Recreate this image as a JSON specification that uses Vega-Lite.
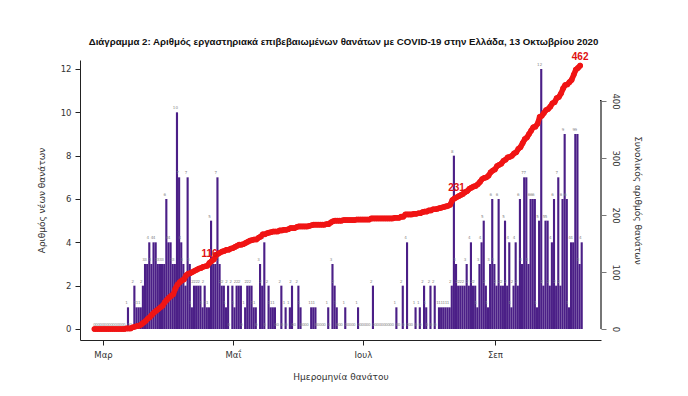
{
  "$schema": "https://vega.github.io/schema/vega-lite/v6.json",
  "width": 521,
  "height": 280,
  "autosize": "none",
  "padding": {"left": 80, "top": 60, "right": 87, "bottom": 56},
  "background": "white",
  "config": {"view": {"stroke": null}, "font": "DejaVu Sans"},
  "title": {
    "text": "Διάγραμμα 2: Αριθμός εργαστηριακά επιβεβαιωμένων θανάτων με COVID-19 στην Ελλάδα, 13 Οκτωβρίου 2020",
    "font": "Liberation Sans",
    "fontSize": 9.7,
    "fontWeight": "bold",
    "color": "#111",
    "anchor": "middle",
    "offset": 5,
    "dx": 3
  },
  "data": {
    "values": [
      {"date": "2020-02-26", "deaths": 0}, {"date": "2020-02-27", "deaths": 0}, {"date": "2020-02-28", "deaths": 0}, {"date": "2020-02-29", "deaths": 0},
      {"date": "2020-03-01", "deaths": 0}, {"date": "2020-03-02", "deaths": 0}, {"date": "2020-03-03", "deaths": 0}, {"date": "2020-03-04", "deaths": 0},
      {"date": "2020-03-05", "deaths": 0}, {"date": "2020-03-06", "deaths": 0}, {"date": "2020-03-07", "deaths": 0}, {"date": "2020-03-08", "deaths": 0},
      {"date": "2020-03-09", "deaths": 0}, {"date": "2020-03-10", "deaths": 0}, {"date": "2020-03-11", "deaths": 0}, {"date": "2020-03-12", "deaths": 1},
      {"date": "2020-03-13", "deaths": 0}, {"date": "2020-03-14", "deaths": 0}, {"date": "2020-03-15", "deaths": 2}, {"date": "2020-03-16", "deaths": 1},
      {"date": "2020-03-17", "deaths": 1}, {"date": "2020-03-18", "deaths": 1}, {"date": "2020-03-19", "deaths": 2}, {"date": "2020-03-20", "deaths": 3},
      {"date": "2020-03-21", "deaths": 3}, {"date": "2020-03-22", "deaths": 4}, {"date": "2020-03-23", "deaths": 3}, {"date": "2020-03-24", "deaths": 4},
      {"date": "2020-03-25", "deaths": 4}, {"date": "2020-03-26", "deaths": 3}, {"date": "2020-03-27", "deaths": 3}, {"date": "2020-03-28", "deaths": 3},
      {"date": "2020-03-29", "deaths": 3}, {"date": "2020-03-30", "deaths": 6}, {"date": "2020-03-31", "deaths": 4}, {"date": "2020-04-01", "deaths": 4},
      {"date": "2020-04-02", "deaths": 3}, {"date": "2020-04-03", "deaths": 3}, {"date": "2020-04-04", "deaths": 10}, {"date": "2020-04-05", "deaths": 7},
      {"date": "2020-04-06", "deaths": 4}, {"date": "2020-04-07", "deaths": 3}, {"date": "2020-04-08", "deaths": 2}, {"date": "2020-04-09", "deaths": 7},
      {"date": "2020-04-10", "deaths": 3}, {"date": "2020-04-11", "deaths": 1}, {"date": "2020-04-12", "deaths": 2}, {"date": "2020-04-13", "deaths": 2},
      {"date": "2020-04-14", "deaths": 2}, {"date": "2020-04-15", "deaths": 2}, {"date": "2020-04-16", "deaths": 1}, {"date": "2020-04-17", "deaths": 2},
      {"date": "2020-04-18", "deaths": 1}, {"date": "2020-04-19", "deaths": 1}, {"date": "2020-04-20", "deaths": 5, "lab": "116"}, {"date": "2020-04-21", "deaths": 3},
      {"date": "2020-04-22", "deaths": 3}, {"date": "2020-04-23", "deaths": 7}, {"date": "2020-04-24", "deaths": 3}, {"date": "2020-04-25", "deaths": 2},
      {"date": "2020-04-26", "deaths": 2}, {"date": "2020-04-27", "deaths": 1}, {"date": "2020-04-28", "deaths": 2}, {"date": "2020-04-29", "deaths": 0},
      {"date": "2020-04-30", "deaths": 2}, {"date": "2020-05-01", "deaths": 1}, {"date": "2020-05-02", "deaths": 2}, {"date": "2020-05-03", "deaths": 2},
      {"date": "2020-05-04", "deaths": 2}, {"date": "2020-05-05", "deaths": 0}, {"date": "2020-05-06", "deaths": 1}, {"date": "2020-05-07", "deaths": 2},
      {"date": "2020-05-08", "deaths": 2}, {"date": "2020-05-09", "deaths": 2}, {"date": "2020-05-10", "deaths": 1}, {"date": "2020-05-11", "deaths": 1},
      {"date": "2020-05-12", "deaths": 0}, {"date": "2020-05-13", "deaths": 3}, {"date": "2020-05-14", "deaths": 2}, {"date": "2020-05-15", "deaths": 4},
      {"date": "2020-05-16", "deaths": 0}, {"date": "2020-05-17", "deaths": 2}, {"date": "2020-05-18", "deaths": 1}, {"date": "2020-05-19", "deaths": 1},
      {"date": "2020-05-20", "deaths": 1}, {"date": "2020-05-21", "deaths": 0}, {"date": "2020-05-22", "deaths": 0}, {"date": "2020-05-23", "deaths": 2},
      {"date": "2020-05-24", "deaths": 0}, {"date": "2020-05-25", "deaths": 1}, {"date": "2020-05-26", "deaths": 0}, {"date": "2020-05-27", "deaths": 1},
      {"date": "2020-05-28", "deaths": 2}, {"date": "2020-05-29", "deaths": 0}, {"date": "2020-05-30", "deaths": 0}, {"date": "2020-05-31", "deaths": 2},
      {"date": "2020-06-01", "deaths": 1}, {"date": "2020-06-02", "deaths": 0}, {"date": "2020-06-03", "deaths": 0}, {"date": "2020-06-04", "deaths": 0},
      {"date": "2020-06-05", "deaths": 0}, {"date": "2020-06-06", "deaths": 1}, {"date": "2020-06-07", "deaths": 1}, {"date": "2020-06-08", "deaths": 1},
      {"date": "2020-06-09", "deaths": 0}, {"date": "2020-06-10", "deaths": 0}, {"date": "2020-06-11", "deaths": 0}, {"date": "2020-06-12", "deaths": 0},
      {"date": "2020-06-13", "deaths": 0}, {"date": "2020-06-14", "deaths": 1}, {"date": "2020-06-15", "deaths": 0}, {"date": "2020-06-16", "deaths": 3},
      {"date": "2020-06-17", "deaths": 2}, {"date": "2020-06-18", "deaths": 1}, {"date": "2020-06-19", "deaths": 0}, {"date": "2020-06-20", "deaths": 0},
      {"date": "2020-06-21", "deaths": 0}, {"date": "2020-06-22", "deaths": 1}, {"date": "2020-06-23", "deaths": 0}, {"date": "2020-06-24", "deaths": 0},
      {"date": "2020-06-25", "deaths": 0}, {"date": "2020-06-26", "deaths": 0}, {"date": "2020-06-27", "deaths": 0}, {"date": "2020-06-28", "deaths": 1},
      {"date": "2020-06-29", "deaths": 0}, {"date": "2020-06-30", "deaths": 0}, {"date": "2020-07-01", "deaths": 0}, {"date": "2020-07-02", "deaths": 0},
      {"date": "2020-07-03", "deaths": 0}, {"date": "2020-07-04", "deaths": 0}, {"date": "2020-07-05", "deaths": 2}, {"date": "2020-07-06", "deaths": 0},
      {"date": "2020-07-07", "deaths": 0}, {"date": "2020-07-08", "deaths": 0}, {"date": "2020-07-09", "deaths": 0}, {"date": "2020-07-10", "deaths": 0},
      {"date": "2020-07-11", "deaths": 0}, {"date": "2020-07-12", "deaths": 0}, {"date": "2020-07-13", "deaths": 0}, {"date": "2020-07-14", "deaths": 0},
      {"date": "2020-07-15", "deaths": 0}, {"date": "2020-07-16", "deaths": 1}, {"date": "2020-07-17", "deaths": 0}, {"date": "2020-07-18", "deaths": 0},
      {"date": "2020-07-19", "deaths": 2}, {"date": "2020-07-20", "deaths": 0}, {"date": "2020-07-21", "deaths": 4}, {"date": "2020-07-22", "deaths": 0},
      {"date": "2020-07-23", "deaths": 0}, {"date": "2020-07-24", "deaths": 0}, {"date": "2020-07-25", "deaths": 1}, {"date": "2020-07-26", "deaths": 0},
      {"date": "2020-07-27", "deaths": 1}, {"date": "2020-07-28", "deaths": 0}, {"date": "2020-07-29", "deaths": 2}, {"date": "2020-07-30", "deaths": 1},
      {"date": "2020-07-31", "deaths": 0}, {"date": "2020-08-01", "deaths": 2}, {"date": "2020-08-02", "deaths": 0}, {"date": "2020-08-03", "deaths": 2},
      {"date": "2020-08-04", "deaths": 0}, {"date": "2020-08-05", "deaths": 1}, {"date": "2020-08-06", "deaths": 1}, {"date": "2020-08-07", "deaths": 1},
      {"date": "2020-08-08", "deaths": 1}, {"date": "2020-08-09", "deaths": 1}, {"date": "2020-08-10", "deaths": 1}, {"date": "2020-08-11", "deaths": 2},
      {"date": "2020-08-12", "deaths": 8}, {"date": "2020-08-13", "deaths": 3}, {"date": "2020-08-14", "deaths": 2, "lab": "231"}, {"date": "2020-08-15", "deaths": 2},
      {"date": "2020-08-16", "deaths": 2}, {"date": "2020-08-17", "deaths": 2}, {"date": "2020-08-18", "deaths": 3}, {"date": "2020-08-19", "deaths": 2},
      {"date": "2020-08-20", "deaths": 4}, {"date": "2020-08-21", "deaths": 2}, {"date": "2020-08-22", "deaths": 2}, {"date": "2020-08-23", "deaths": 1},
      {"date": "2020-08-24", "deaths": 3}, {"date": "2020-08-25", "deaths": 4}, {"date": "2020-08-26", "deaths": 5}, {"date": "2020-08-27", "deaths": 2},
      {"date": "2020-08-28", "deaths": 1}, {"date": "2020-08-29", "deaths": 3}, {"date": "2020-08-30", "deaths": 6}, {"date": "2020-08-31", "deaths": 3},
      {"date": "2020-09-01", "deaths": 2}, {"date": "2020-09-02", "deaths": 6}, {"date": "2020-09-03", "deaths": 2}, {"date": "2020-09-04", "deaths": 2},
      {"date": "2020-09-05", "deaths": 5}, {"date": "2020-09-06", "deaths": 2}, {"date": "2020-09-07", "deaths": 4}, {"date": "2020-09-08", "deaths": 1},
      {"date": "2020-09-09", "deaths": 2}, {"date": "2020-09-10", "deaths": 4}, {"date": "2020-09-11", "deaths": 2}, {"date": "2020-09-12", "deaths": 6},
      {"date": "2020-09-13", "deaths": 3}, {"date": "2020-09-14", "deaths": 7}, {"date": "2020-09-15", "deaths": 7}, {"date": "2020-09-16", "deaths": 3},
      {"date": "2020-09-17", "deaths": 6}, {"date": "2020-09-18", "deaths": 6}, {"date": "2020-09-19", "deaths": 6}, {"date": "2020-09-20", "deaths": 1},
      {"date": "2020-09-21", "deaths": 5}, {"date": "2020-09-22", "deaths": 12}, {"date": "2020-09-23", "deaths": 2}, {"date": "2020-09-24", "deaths": 5},
      {"date": "2020-09-25", "deaths": 5}, {"date": "2020-09-26", "deaths": 2}, {"date": "2020-09-27", "deaths": 4}, {"date": "2020-09-28", "deaths": 6},
      {"date": "2020-09-29", "deaths": 2}, {"date": "2020-09-30", "deaths": 7}, {"date": "2020-10-01", "deaths": 2}, {"date": "2020-10-02", "deaths": 6},
      {"date": "2020-10-03", "deaths": 9}, {"date": "2020-10-04", "deaths": 6}, {"date": "2020-10-05", "deaths": 1}, {"date": "2020-10-06", "deaths": 4},
      {"date": "2020-10-07", "deaths": 4}, {"date": "2020-10-08", "deaths": 9}, {"date": "2020-10-09", "deaths": 9}, {"date": "2020-10-10", "deaths": 3},
      {"date": "2020-10-11", "deaths": 4, "lab": "462"}
    ]
  },
  "encoding": {
    "x": {
      "field": "date",
      "type": "temporal",
      "timeUnit": "yearmonthdate",
      "scale": {"domain": [{"year": 2020, "month": "Feb", "date": 19, "hours": 5}, {"year": 2020, "month": "Oct", "date": 20, "hours": 19}]},
      "axis": {
        "values": [{"year": 2020, "month": "Mar", "date": 1}, {"year": 2020, "month": "May", "date": 1}, {"year": 2020, "month": "Jul", "date": 1}, {"year": 2020, "month": "Sep", "date": 1}],
        "labelExpr": "['Ιαν','Φεβ','Μαρ','Απρ','Μαΐ','Ιουν','Ιουλ','Αυγ','Σεπ','Οκτ','Νοε','Δεκ'][month(datum.value)]",
        "title": "Ημερομηνία θανάτου",
        "grid": false,
        "domainColor": "#222",
        "tickColor": "#222",
        "tickSize": 5,
        "labelFontSize": 8.5,
        "labelColor": "#333",
        "labelPadding": 5,
        "titleFontSize": 9,
        "titleFontWeight": "normal",
        "titleColor": "#333",
        "titlePadding": 14
      }
    }
  },
  "layer": [
    {
      "encoding": {
        "y": {
          "field": "deaths",
          "type": "quantitative",
          "scale": {"domain": [-0.508, 12.415], "nice": false, "zero": false},
          "axis": {
            "values": [0, 2, 4, 6, 8, 10, 12],
            "title": "Αριθμός νέων θανάτων",
            "grid": false,
            "domainColor": "#222",
            "tickColor": "#222",
            "tickSize": 5,
            "labelFontSize": 8.5,
            "labelColor": "#333",
            "labelPadding": 4,
            "titleFontSize": 9,
            "titleFontWeight": "normal",
            "titleColor": "#333",
            "titlePadding": 14
          }
        }
      },
      "layer": [
        {
          "mark": {"type": "bar", "color": "#4b1f87", "binSpacing": 0},
          "encoding": {"y2": {"datum": 0}}
        },
        {
          "mark": {"type": "text", "fontSize": 4, "color": "#888", "baseline": "bottom", "dy": -2},
          "encoding": {"text": {"field": "deaths", "type": "quantitative"}}
        }
      ]
    },
    {
      "transform": [
        {"window": [{"op": "sum", "field": "deaths", "as": "cum"}], "sort": [{"field": "date", "order": "ascending"}]}
      ],
      "encoding": {
        "y": {
          "field": "cum",
          "type": "quantitative",
          "scale": {"domain": [-19.3, 471.9], "nice": false, "zero": false},
          "axis": {
            "orient": "right",
            "values": [0, 100, 200, 300, 400],
            "title": "Συνολικός αριθμός θανάτων",
            "grid": false,
            "domain": false,
            "tickColor": "#777",
            "tickSize": 5,
            "labelAngle": 90,
            "labelAlign": "center",
            "labelBaseline": "bottom",
            "labelFontSize": 8.5,
            "labelColor": "#333",
            "labelPadding": 4,
            "titleAngle": 90,
            "titleFontSize": 9,
            "titleFontWeight": "normal",
            "titleColor": "#333",
            "titlePadding": 13
          }
        }
      },
      "layer": [
        {
          "mark": {"type": "rule", "color": "#777", "strokeWidth": 1},
          "encoding": {
            "x": {"datum": {"year": 2020, "month": "Oct", "date": 20, "hours": 19}, "type": "temporal"},
            "y": {"datum": 0, "type": "quantitative"},
            "y2": {"datum": 400}
          }
        },
        {
          "mark": {"type": "line", "color": "#f01414", "strokeWidth": 5.5, "strokeCap": "round", "strokeJoin": "round"}
        },
        {
          "mark": {"type": "circle", "color": "#f01414", "opacity": 1, "size": 32}
        },
        {
          "transform": [{"filter": "datum.lab != null"}],
          "mark": {"type": "text", "color": "#e01010", "fontWeight": "bold", "fontSize": 10, "baseline": "bottom", "dy": -4, "font": "Liberation Sans"},
          "encoding": {"text": {"field": "lab", "type": "nominal"}}
        }
      ]
    }
  ],
  "resolve": {"scale": {"y": "independent"}}
}
